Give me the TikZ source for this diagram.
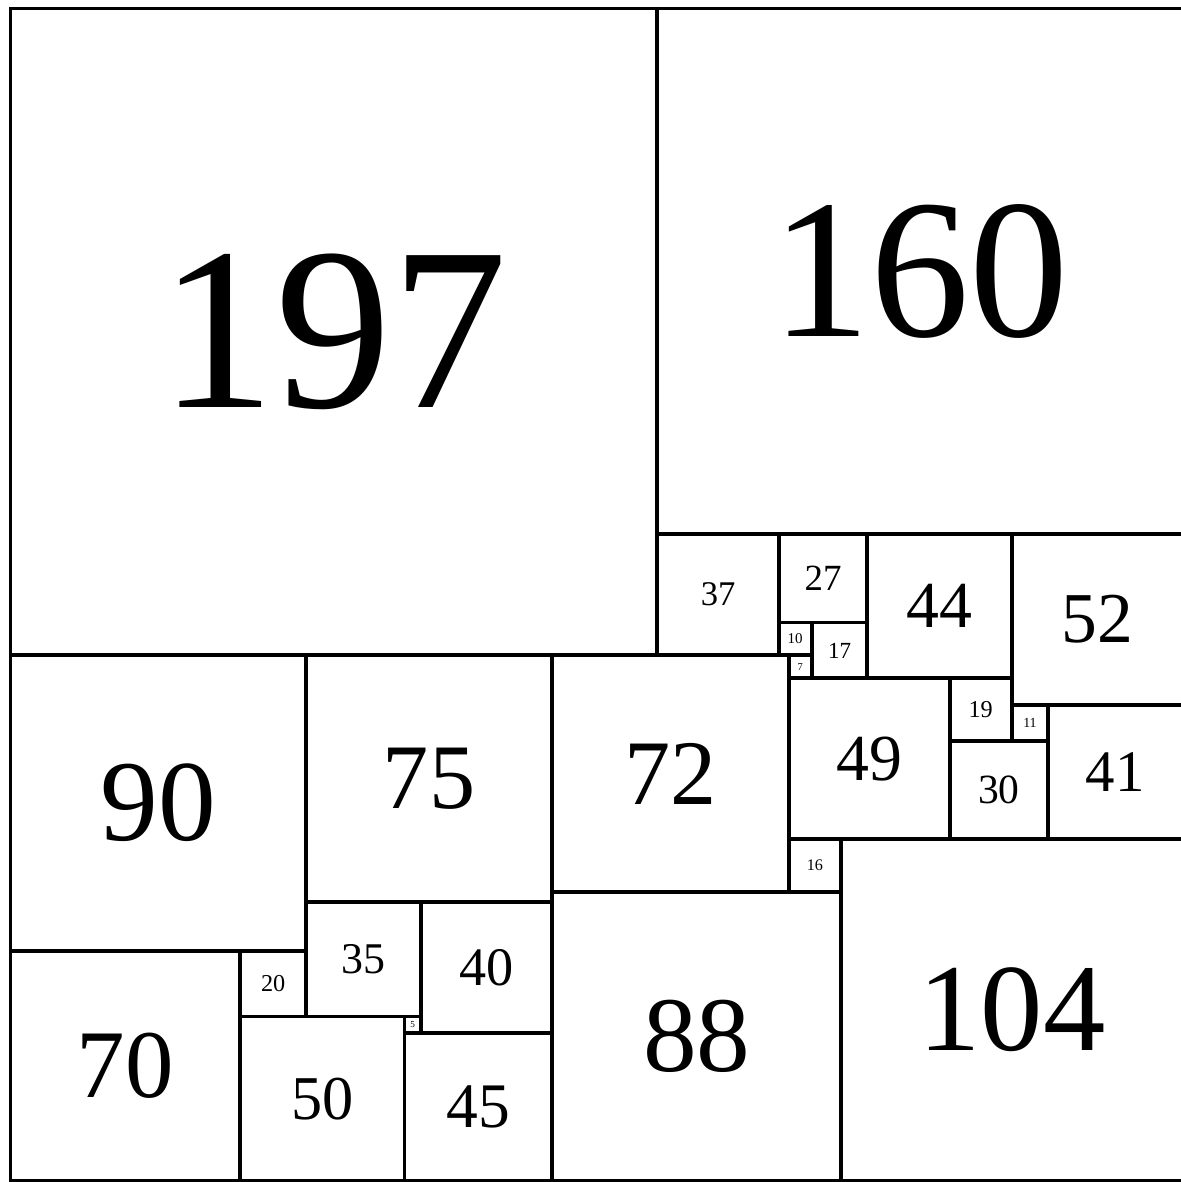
\documentclass[tikz,border=0pt]{standalone}
\usepackage{fontspec}
\setmainfont{Liberation Serif}
\usepackage{tikz}

\newcommand\labsize[1]{\fontsize{#1pt}{#1pt}\selectfont}

\begin{document}
\begin{tikzpicture}[x=1mm,y=1mm,sq/.style={draw,line width=1.2mm,minimum size=#1mm,inner sep=0pt}]
\useasboundingbox (-3.2,-0.4) rectangle (356.2,359.6);
% top band
\node[sq=197,font=\labsize{201}](s197) at (98.5,258.5){197};
\node[sq=160,font=\labsize{172}](s160) at (277,277){160};
\node[sq=37,font=\labsize{30}](s37) at (215.5,178.5){37};
\node[sq=27,font=\labsize{32}](s27) at (247.5,183.5){27};
\node[sq=44,font=\labsize{57}](s44) at (283,175){44};
\node[sq=52,font=\labsize{62}](s52) at (331,171){52};
\node[sq=10,font=\labsize{13}](s10) at (239,165){10};
\node[sq=17,font=\labsize{20}](s17) at (252.5,161.5){17};
\node[sq=7,font=\labsize{9}](s7) at (240.5,156.5){7};
% middle band
\node[sq=90,font=\labsize{100}](s90) at (45,115){90};
\node[sq=75,font=\labsize{80}](s75) at (127.5,122.5){75};
\node[sq=72,font=\labsize{80}](s72) at (201,124){72};
\node[sq=49,font=\labsize{57}](s49) at (261.5,128.5){49};
\node[sq=19,font=\labsize{21}](s19) at (295.5,143.5){19};
\node[sq=11,font=\labsize{12}](s11) at (310.5,139.5){11};
\node[sq=41,font=\labsize{51}](s41) at (336.5,124.5){41};
\node[sq=30,font=\labsize{36}](s30) at (301,119){30};
\node[sq=16,font=\labsize{14}](s16) at (245,96){16};
% bottom band
\node[sq=104,font=\labsize{108}](s104) at (305,52){104};
\node[sq=88,font=\labsize{93}](s88) at (209,44){88};
\node[sq=35,font=\labsize{38}](s35) at (107.5,67.5){35};
\node[sq=40,font=\labsize{47}](s40) at (145,65){40};
\node[sq=70,font=\labsize{84}](s70) at (35,35){70};
\node[sq=20,font=\labsize{21}](s20) at (80,60){20};
\node[sq=50,font=\labsize{54}](s50) at (95,25){50};
\node[sq=5,font=\labsize{8}](s5) at (122.5,47.5){5};
\node[sq=45,font=\labsize{55}](s45) at (142.5,22.5){45};
\end{tikzpicture}
\end{document}
